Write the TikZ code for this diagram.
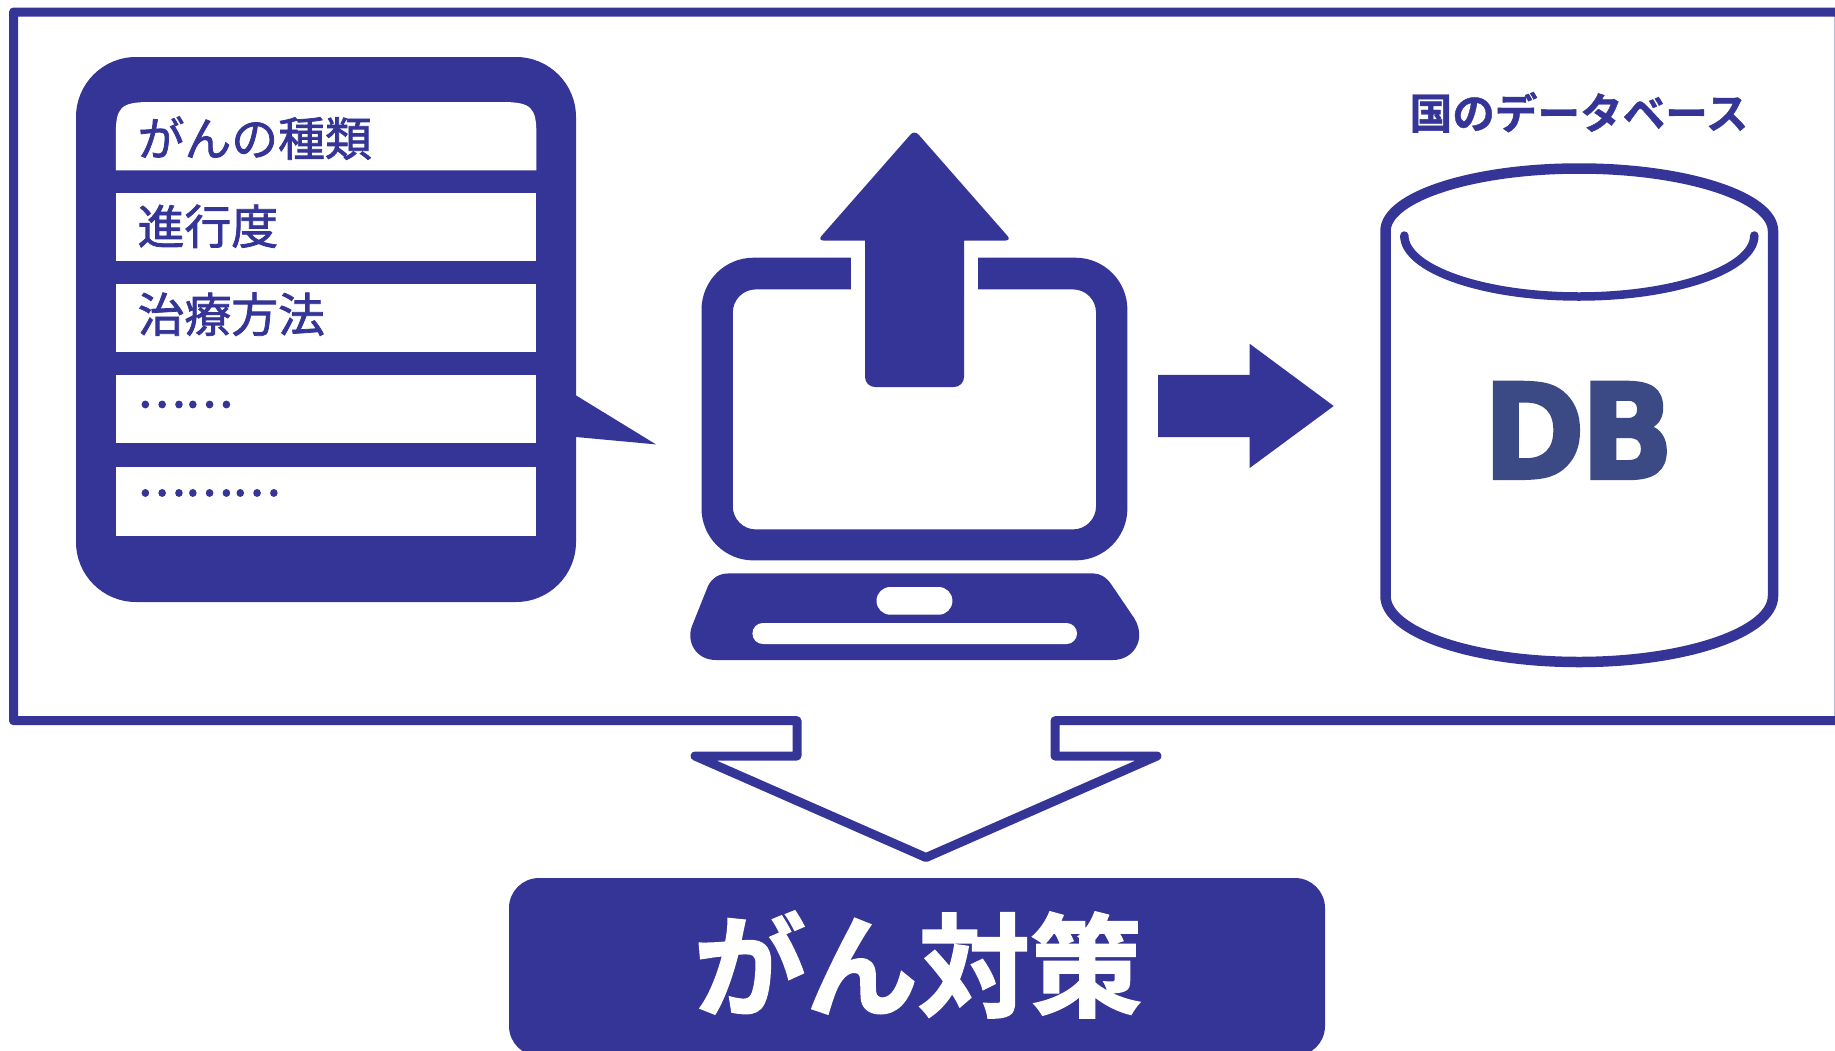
\documentclass[tikz,border=0pt]{standalone}
\usepackage{fontspec}
\newfontfamily\jpm[FakeBold=1.6]{Noto Sans CJK JP}
\newfontfamily\jpd[FakeBold=3.4]{Noto Sans CJK JP}
\newfontfamily\jpb[FakeBold=1.0]{Noto Sans CJK JP Bold}
\newfontfamily\jpx[FakeBold=1.6]{Noto Sans CJK JP Bold}
\newfontfamily\dbf[FakeBold=2.4]{DejaVu Sans Bold}
\definecolor{ink}{HTML}{353598}
\definecolor{dbink}{HTML}{3B4A85}
\tikzset{
  rowtext/.style={anchor=base west,inner sep=0pt,text=ink,font=\fontsize{46.8}{50}\jpm},
  dottext/.style={anchor=base west,inner sep=0pt,text=ink,font=\fontsize{44.8}{50}\jpd},
  rowbox/.style={fill=white},
  solid ink/.style={fill=ink},
  frame line/.style={draw=ink,line width=9pt,line join=round},
}
\begin{document}
\begin{tikzpicture}[x=1pt,y=-1pt]
\useasboundingbox (0,0) rectangle (1835,1050);
% frame with down arrow
\draw[frame line] (13.5,12) -- (1839.2,12) -- (1839.2,720.7) -- (1055,720.7) -- (1055,756) -- (1157,756) -- (926,857.5) -- (695,756) -- (797,756) -- (797,720.7) -- (13.5,720.7) -- cycle;
% speech box
\fill[solid ink,rounded corners=60pt] (76,57) rectangle (576,602);
\fill[solid ink] (570,391) -- (576,395.4) -- (656,444.4) -- (576,437) -- (570,437) -- cycle;
\fill[rowbox] (115.8,170.4) -- (115.8,135) .. controls (115.8,108) and (120,102) .. (150,102) -- (502,102) .. controls (532,102) and (536.4,108) .. (536.4,135) -- (536.4,170.4) -- cycle;
\fill[rowbox] (115.8,193.4) rectangle (536.4,261.4);
\fill[rowbox] (115.8,284) rectangle (536.4,352);
\fill[rowbox] (115.8,374.8) rectangle (536.4,442.9);
\fill[rowbox] (115.8,467.4) rectangle (536.4,535.8);
\node[rowtext] (r1) at (137.5,156) {がんの種類};
\node[rowtext] (r2) at (137.5,244) {進行度};
\node[rowtext] (r3) at (137.5,332) {治療方法};
\node[dottext] (r4) at (137.5,407) {……};
\node[dottext] (r5) at (137.5,495.5) {………};
% screen
\fill[solid ink,even odd rule,rounded corners=52pt] (701.5,257.7) rectangle (1127.4,560.4)
  [rounded corners=23pt] (732.8,289.4) rectangle (1096,529.4);
\fill[white] (851,250) rectangle (978.3,296);
% up arrow
\fill[solid ink] (865,240.5) [rounded corners=10pt] -- (865,387) -- (964,387) [sharp corners] -- (964,240.5)
  [rounded corners=6pt] -- (1011.5,240.5) -- (914.5,130) -- (817.5,240.5) [sharp corners] -- cycle;
% base
\fill[solid ink] (729,573.4) .. controls (719,573.4) and (712,578) .. (708,586) -- (692,626)
  .. controls (686,642) and (696,660) .. (716,660) -- (1113,660)
  .. controls (1133,660) and (1147,640) .. (1134.5,618.6) -- (1111,584)
  .. controls (1106,577) and (1100,573.4) .. (1093,573.4) -- cycle;
\fill[white,rounded corners=13.8pt] (876.5,587) rectangle (952.4,614.7);
\fill[white,rounded corners=10.5pt] (752.4,623) rectangle (1077,644);
% right arrow
\fill[solid ink] (1158,374.8) -- (1249.7,374.8) -- (1249.7,343.8) -- (1333.7,406) -- (1249.7,468) -- (1249.7,437) -- (1158,437) -- cycle;
% cylinder
\draw[ink,line width=10.5pt,line join=round] (1385.5,231) .. controls (1385.5,197) and (1472,168.5) .. (1579,168.5) .. controls (1686,168.5) and (1773,197) .. (1773,231) -- (1773,596) .. controls (1773,632) and (1686,662) .. (1579,662) .. controls (1472,662) and (1385.5,632) .. (1385.5,596) -- cycle;
\draw[ink,line width=8.5pt,line cap=round] (1404.3,235.5) .. controls (1404.3,269) and (1483,296.5) .. (1579,296.5) .. controls (1675,296.5) and (1754.3,269) .. (1754.3,235.5);
\node[anchor=base,inner sep=0pt,text=dbink,font=\fontsize{132}{140}\dbf] (db) at (1578.5,478.5) {\scalebox{.93}[1]{D\kern-5pt B}};
\node[anchor=base,inner sep=0pt,text=ink,font=\fontsize{42.6}{46}\jpb] (dbt) at (1579,129) {国のデータベース};
% bottom box
\fill[solid ink,rounded corners=30pt] (509,878) rectangle (1325,1056);
\node[anchor=base,inner sep=0pt,text=white,font=\fontsize{112}{116}\jpx] (goal) at (918,1008) {がん対策};
\end{tikzpicture}
\end{document}
